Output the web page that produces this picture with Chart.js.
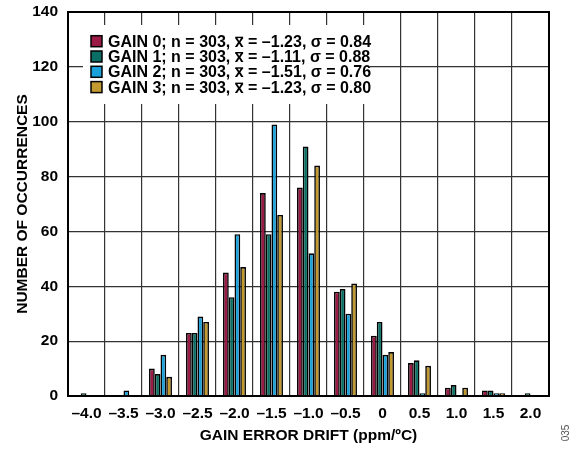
<!DOCTYPE html>
<html lang="en">

<head>
    <meta charset="UTF-8">
    <title>Gain Error Drift Histogram</title>
    <script src="https://cdn.jsdelivr.net/npm/chart.js"></script>
    <style>
        body {
            margin: 0;
            padding: 0;
            background-color: #fff;
        }

        #chart {
            display: block;
        }
    </style>
</head>

<body>
    <canvas id="chart" width="576" height="449"></canvas>

    <script>
        // Bin centres (ppm/°C) and counts per gain setting
        const bins = ['–4.0', '–3.5', '–3.0', '–2.5', '–2.0', '–1.5', '–1.0', '–0.5', '0', '0.5', '1.0', '1.5', '2.0'];
        const gain0 = [0, 0, 10, 23, 45, 74, 76, 38, 22, 12, 3, 2, 0];
        const gain1 = [1, 0, 8, 23, 36, 59, 91, 39, 27, 13, 4, 2, 1];
        const gain2 = [0, 2, 15, 29, 59, 99, 52, 30, 15, 1, 0, 1, 0];
        const gain3 = [0, 0, 7, 27, 47, 66, 84, 41, 16, 11, 3, 1, 0];
        const seriesLabels = [
            'GAIN 0; n = 303, x̄ = –1.23, σ = 0.84',
            'GAIN 1; n = 303, x̄ = –1.11, σ = 0.88',
            'GAIN 2; n = 303, x̄ = –1.51, σ = 0.76',
            'GAIN 3; n = 303, x̄ = –1.23, σ = 0.80'
        ];
        const yMin = 0, yMax = 140, yStep = 20;

        const colors = ['#9b1b46', '#0b6e64', '#1ba1da', '#c39a2f'];
        const FONT = '"Liberation Sans", Arial, sans-serif';

        // white legend panel inside the plot, plus the frame and figure number
        const extras = {
            id: 'extras',
            afterDatasetsDraw(chart) {
                const ctx = chart.ctx;
                const a = chart.chartArea;
                ctx.save();

                // frame around the plot
                ctx.strokeStyle = '#000';
                ctx.lineWidth = 2;
                ctx.strokeRect(a.left, a.top, a.right - a.left, a.bottom - a.top);

                // legend
                const lx = a.left + 15;
                ctx.fillStyle = '#fff';
                ctx.fillRect(lx, a.top + 13, 287, 79);
                ctx.font = 'bold 16px ' + FONT;
                ctx.textBaseline = 'alphabetic';
                chart.data.datasets.forEach((ds, i) => {
                    const base = a.top + 34.7 + i * 15.3;
                    ctx.fillStyle = ds.backgroundColor;
                    ctx.fillRect(lx + 8, base - 11, 11, 11);
                    ctx.lineWidth = 1.5;
                    ctx.strokeStyle = '#000';
                    ctx.strokeRect(lx + 8, base - 11, 11, 11);

                    const parts = ds.label.split('x̄');
                    let x = lx + 25;
                    ctx.fillStyle = '#000';
                    ctx.fillText(parts[0], x, base);
                    x += ctx.measureText(parts[0]).width;
                    ctx.fillText('x', x, base);
                    const w = ctx.measureText('x').width;
                    ctx.fillRect(x + 0.5, base - 10, w - 1, 1.4);
                    x += w;
                    ctx.fillText(parts[1], x, base);
                });

                // figure number
                ctx.translate(566, 433);
                ctx.rotate(-Math.PI / 2);
                ctx.font = '10px ' + FONT;
                ctx.fillStyle = '#555';
                ctx.textAlign = 'center';
                ctx.textBaseline = 'middle';
                ctx.fillText('035', 0, 0);
                ctx.restore();
            }
        };

        const ctx = document.getElementById('chart').getContext('2d');
        new Chart(ctx, {
            type: 'bar',
            data: {
                labels: bins,
                datasets: [gain0, gain1, gain2, gain3].map((d, i) => ({
                    label: seriesLabels[i],
                    data: d,
                    backgroundColor: colors[i],
                    borderColor: '#000',
                    borderWidth: 1.6,
                    categoryPercentage: 0.62,
                    barPercentage: 1.0
                }))
            },
            options: {
                responsive: false,
                animation: false,
                layout: {
                    padding: { top: 12, right: 27, left: 0, bottom: 0 }
                },
                plugins: {
                    legend: { display: false },
                    tooltip: { enabled: false }
                },
                scales: {
                    x: {
                        grid: { color: '#333', lineWidth: 1.2, drawTicks: false, offset: true },
                        border: { color: '#000', width: 2 },
                        ticks: {
                            color: '#000',
                            padding: 8,
                            maxRotation: 0,
                            autoSkip: false,
                            font: { family: FONT, size: 15.5, weight: 'bold' }
                        },
                        title: {
                            display: true,
                            text: 'GAIN ERROR DRIFT (ppm/ºC)',
                            color: '#000',
                            font: { family: FONT, size: 15.5, weight: 'bold' },
                            padding: { top: 0, bottom: 4 }
                        },
                        afterFit(s) {
                            s.height = 53;
                            s.paddingLeft = 0;
                            s.paddingRight = 0;
                        }
                    },
                    y: {
                        min: yMin,
                        max: yMax,
                        grid: { color: '#333', lineWidth: 1.2, drawTicks: false },
                        border: { color: '#000', width: 2 },
                        ticks: {
                            stepSize: yStep,
                            color: '#000',
                            padding: 10,
                            font: { family: FONT, size: 15.5, weight: 'bold' }
                        },
                        title: {
                            display: true,
                            text: 'NUMBER OF OCCURRENCES',
                            color: '#000',
                            font: { family: FONT, size: 15.5, weight: 'bold' },
                            padding: { top: 13, bottom: 0 }
                        },
                        afterFit(s) {
                            s.width = 68;
                            s.paddingTop = 0;
                            s.paddingBottom = 0;
                        }
                    }
                }
            },
            plugins: [extras]
        });
    </script>
</body>

</html>
